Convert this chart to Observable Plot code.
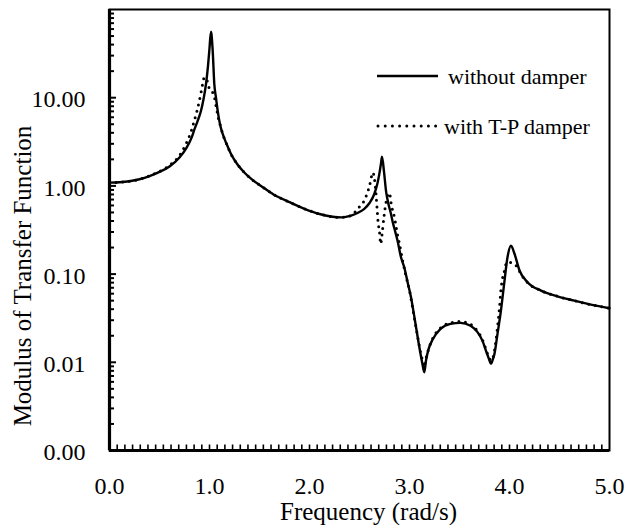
<!DOCTYPE html>
<html><head><meta charset="utf-8">
<script src="https://cdn.jsdelivr.net/npm/d3@7"></script>
<script src="https://cdn.jsdelivr.net/npm/@observablehq/plot@0.6"></script>
<style>
body{margin:0;background:#fff;}
#wrap{position:relative;width:627px;height:525px;font-family:"Liberation Serif","Times New Roman",serif;}
#legend{position:absolute;left:0;top:0;}
</style></head><body><div id="wrap"></div>
<script>
// ---- data ----
const seriesNames = ["without damper", "with T-P damper"];

const solidFreq = [0, 0.1, 0.2, 0.3, 0.4, 0.5, 0.6, 0.7, 0.77, 0.82, 0.85, 0.88, 0.915, 0.94, 0.965, 0.985, 0.998, 1.015, 1.032, 1.048, 1.065, 1.082, 1.105, 1.132, 1.17, 1.215, 1.28, 1.348, 1.43, 1.515, 1.64, 1.8, 1.95, 2.1, 2.215, 2.32, 2.415, 2.49, 2.548, 2.6, 2.648, 2.678, 2.698, 2.715, 2.725, 2.745, 2.765, 2.79, 2.815, 2.832, 2.855, 2.88, 2.915, 2.948, 2.98, 3.015, 3.05, 3.082, 3.11, 3.13, 3.148, 3.165, 3.19, 3.23, 3.31, 3.41, 3.51, 3.61, 3.68, 3.73, 3.77, 3.8, 3.815, 3.83, 3.85, 3.88, 3.915, 3.95, 3.98, 4.015, 4.05, 4.1, 4.18, 4.315, 4.48, 4.65, 4.815, 5.0];
const solidMod  = [1.09, 1.10, 1.13, 1.19, 1.29, 1.44, 1.66, 2.1, 2.7, 3.5, 4.4, 5.4, 7.1, 9.6, 14.3, 23, 34, 56, 34, 14.3, 10, 7.1, 5.0, 3.88, 3.0, 2.3, 1.75, 1.42, 1.17, 1.0, 0.80, 0.655, 0.55, 0.48, 0.45, 0.44, 0.46, 0.5, 0.55, 0.64, 0.81, 1.05, 1.36, 1.8, 2.14, 1.45, 0.88, 0.62, 0.48, 0.39, 0.31, 0.24, 0.155, 0.119, 0.082, 0.0546, 0.032, 0.0192, 0.0125, 0.0095, 0.0077, 0.0105, 0.014, 0.018, 0.0239, 0.0273, 0.028, 0.026, 0.022, 0.0175, 0.013, 0.0105, 0.0096, 0.0105, 0.0125, 0.021, 0.039, 0.084, 0.155, 0.21, 0.17, 0.11, 0.081, 0.065, 0.056, 0.05, 0.045, 0.041];

const dampedFreq = [0, 0.1, 0.2, 0.3, 0.4, 0.5, 0.617, 0.698, 0.765, 0.815, 0.848, 0.875, 0.898, 0.915, 0.932, 0.948, 0.965, 0.982, 0.995, 1.008, 1.03, 1.05, 1.07, 1.09, 1.105, 1.132, 1.17, 1.215, 1.28, 1.348, 1.43, 1.515, 1.64, 1.8, 1.95, 2.1, 2.215, 2.32, 2.415, 2.465, 2.51, 2.548, 2.58, 2.6, 2.615, 2.632, 2.65, 2.665, 2.675, 2.685, 2.7, 2.712, 2.725, 2.745, 2.765, 2.785, 2.8, 2.815, 2.832, 2.85, 2.865, 2.88, 2.9, 2.93, 2.96, 3.0, 3.04, 3.08, 3.11, 3.13, 3.145, 3.16, 3.19, 3.23, 3.31, 3.41, 3.51, 3.61, 3.68, 3.73, 3.77, 3.8, 3.82, 3.85, 3.88, 3.9, 3.915, 3.93, 3.95, 3.965, 3.99, 4.015, 4.04, 4.065, 4.09, 4.115, 4.18, 4.315, 4.48, 4.65, 4.815, 5.0];
const dampedMod  = [1.09, 1.10, 1.13, 1.19, 1.3, 1.46, 1.77, 2.2, 3.0, 4.1, 5.5, 7.1, 9.2, 11.4, 14.4, 17, 16.5, 14.9, 13, 12, 11.5, 10, 7.5, 5.8, 5.0, 3.88, 3.0, 2.3, 1.75, 1.42, 1.17, 1.0, 0.80, 0.655, 0.55, 0.48, 0.45, 0.44, 0.46, 0.52, 0.6, 0.68, 0.85, 1.0, 1.2, 1.42, 1.2, 0.81, 0.57, 0.4, 0.3, 0.22, 0.28, 0.45, 0.65, 0.8, 0.83, 0.65, 0.52, 0.44, 0.35, 0.28, 0.22, 0.145, 0.1, 0.065, 0.036, 0.02, 0.013, 0.0105, 0.0088, 0.0105, 0.014, 0.0185, 0.0245, 0.028, 0.029, 0.027, 0.0225, 0.018, 0.0135, 0.011, 0.0105, 0.0137, 0.025, 0.042, 0.068, 0.089, 0.11, 0.13, 0.138, 0.135, 0.13, 0.125, 0.113, 0.1, 0.08, 0.065, 0.056, 0.05, 0.045, 0.041];

const xTicks = [0, 1, 2, 3, 4, 5];
const xTickLabels = ["0.0", "1.0", "2.0", "3.0", "4.0", "5.0"];
const yTicks = [0.001, 0.01, 0.1, 1, 10];
const yTickLabels = ["0.00", "0.01", "0.10", "1.00", "10.00"];
const xTitle = "Frequency (rad/s)";
const yTitle = "Modulus of Transfer Function";

// ---- build ----
const solid = solidFreq.map((f, i) => ({f, m: solidMod[i]}));
const damped = dampedFreq.map((f, i) => ({f, m: dampedMod[i]}));
const yMinor = [];
for (let k = -3; k <= 1; k++) for (let j = 2; j <= 9; j++) yMinor.push(j * Math.pow(10, k));
const xMinor = d3.range(1, 65).map(i => i * 5 / 65);

const W = 627, H = 525, mL = 109, mR = 18, mT = 9, mB = 75;
const pW = W - mL - mR, pH = H - mT - mB;
const font = "'Liberation Serif', 'Times New Roman', serif";

const chart = Plot.plot({
  width: W, height: H,
  marginLeft: mL, marginRight: mR, marginTop: mT, marginBottom: mB,
  style: {fontFamily: font, fontSize: "24px", color: "#000", background: "#fff", overflow: "visible"},
  x: {domain: [0, 5]},
  y: {type: "log", domain: [0.001, 100]},
  marks: [
    Plot.axisX({ticks: xTicks, tickFormat: d => xTickLabels[xTicks.indexOf(d)], tickSize: 0, tickPadding: 26, label: null, fontSize: 24}),
    Plot.axisY({ticks: yTicks, tickFormat: d => yTickLabels[yTicks.indexOf(d)], tickSize: 0, tickPadding: 24, label: null, fontSize: 24, dy: 2}),
    Plot.tickY(yMinor.filter(v => v < 100), {y: d => d, insetRight: pW - 5, strokeWidth: 2}),
    Plot.tickY(yTicks, {y: d => d, insetRight: pW - 7, strokeWidth: 2}),
    Plot.tickX(xMinor, {x: d => d, insetTop: pH - 5.5, strokeWidth: 1.6}),
    Plot.frame({strokeWidth: 2}),
    Plot.ruleX([0], {strokeWidth: 3.2}),
    Plot.ruleY([0.001], {strokeWidth: 3.2}),
    Plot.line(solid, {x: "f", y: "m", stroke: "#000", strokeWidth: 2.4, curve: "monotone-x"}),
    Plot.line(damped, {x: "f", y: "m", stroke: "#000", strokeWidth: 3, strokeDasharray: "0 6.6", strokeLinecap: "round", curve: "monotone-x"}),
    Plot.text([xTitle], {frameAnchor: "bottom", textAnchor: "middle", lineAnchor: "middle", dx: 9, dy: 61, fontSize: 25}),
    Plot.text([yTitle], {frameAnchor: "left", textAnchor: "middle", lineAnchor: "middle", rotate: -90, dx: -87, dy: 46, fontSize: 25})
  ]
});
const wrap = document.getElementById("wrap");
wrap.appendChild(chart);

// legend overlay (inside top-right of the frame)
const ns = "http://www.w3.org/2000/svg";
const leg = document.createElementNS(ns, "svg");
leg.setAttribute("id", "legend");
leg.setAttribute("width", W); leg.setAttribute("height", 160);
const items = [
  {name: seriesNames[0], y: 76, x1: 377, x2: 438, tx: 448, dash: null},
  {name: seriesNames[1], y: 126, x1: 378, x2: 436, tx: 444, dash: "0 7.2"}
];
for (const it of items) {
  const l = document.createElementNS(ns, "line");
  l.setAttribute("x1", it.x1); l.setAttribute("x2", it.x2);
  l.setAttribute("y1", it.y); l.setAttribute("y2", it.y);
  l.setAttribute("stroke", "#000");
  l.setAttribute("stroke-width", it.dash ? 3 : 2.4);
  if (it.dash) { l.setAttribute("stroke-dasharray", it.dash); l.setAttribute("stroke-linecap", "round"); }
  leg.appendChild(l);
  const t = document.createElementNS(ns, "text");
  t.setAttribute("x", it.tx); t.setAttribute("y", it.y + 7.5);
  t.setAttribute("font-family", font); t.setAttribute("font-size", 22);
  t.textContent = it.name;
  leg.appendChild(t);
}
wrap.appendChild(leg);
</script>
</body></html>
